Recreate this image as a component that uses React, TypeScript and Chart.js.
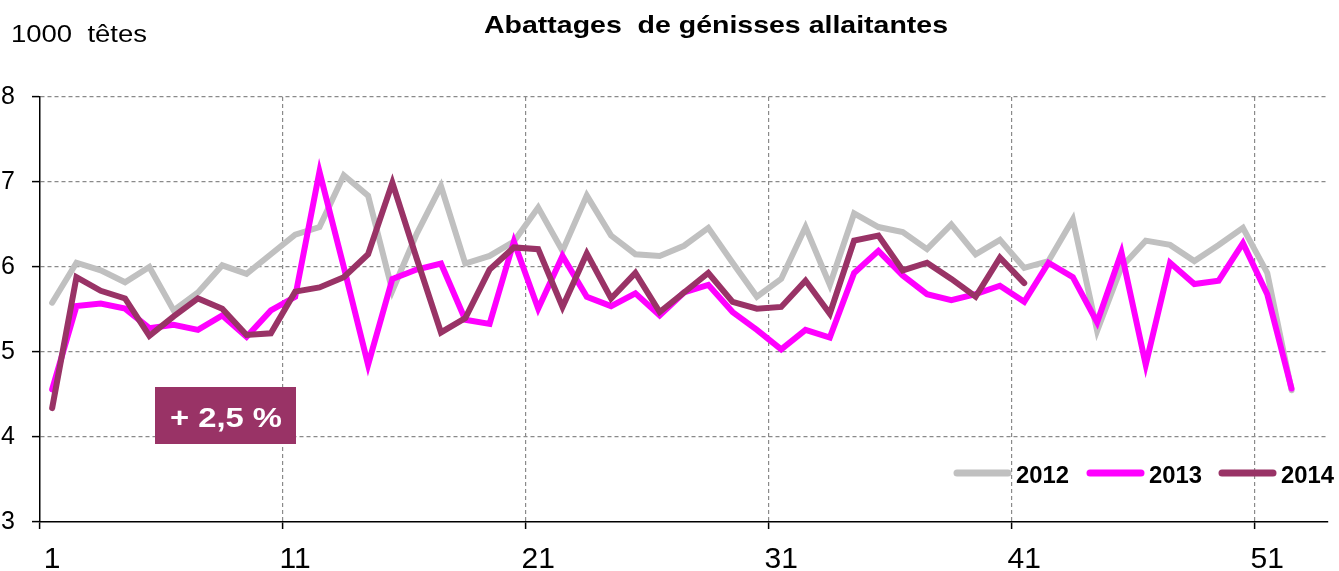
import React, { useEffect, useRef } from "react";
import { Chart, registerables } from "chart.js";

Chart.register(...registerables);

// ---------- Data ----------
const weeks = [
  "1", "2", "3", "4", "5", "6", "7", "8", "9", "10",
  "11", "12", "13", "14", "15", "16", "17", "18", "19", "20",
  "21", "22", "23", "24", "25", "26", "27", "28", "29", "30",
  "31", "32", "33", "34", "35", "36", "37", "38", "39", "40",
  "41", "42", "43", "44", "45", "46", "47", "48", "49", "50",
  "51", "52", "53",
];

const series2012 = [
  5.58, 6.05, 5.96, 5.82, 6.0, 5.49, 5.7, 6.02, 5.92, 6.15,
  6.38, 6.47, 7.08, 6.84, 5.72, 6.39, 6.95, 6.04, 6.13, 6.3,
  6.7, 6.19, 6.84, 6.37, 6.15, 6.13, 6.25, 6.46, 6.05, 5.65,
  5.86, 6.47, 5.79, 6.63, 6.47, 6.41, 6.21, 6.5, 6.15, 6.32,
  5.99, 6.07, 6.56, 5.25, 6.0, 6.31, 6.26, 6.07, 6.26, 6.46,
  5.93, 4.55,
];

const series2013 = [
  4.56, 5.54, 5.57, 5.51, 5.28, 5.32, 5.26, 5.43, 5.18, 5.49,
  5.65, 7.12, 6.0, 4.85, 5.86, 5.97, 6.04, 5.38, 5.33, 6.3,
  5.51, 6.13, 5.65, 5.54, 5.69, 5.43, 5.7, 5.79, 5.47, 5.26,
  5.03, 5.26, 5.17, 5.93, 6.19, 5.9, 5.68, 5.61, 5.68, 5.78,
  5.59, 6.05, 5.88, 5.35, 6.17, 4.85, 6.05, 5.8, 5.84, 6.28,
  5.68, 4.57,
];

const series2014 = [
  4.34, 5.88, 5.72, 5.63, 5.19, 5.42, 5.63, 5.51, 5.2, 5.22,
  5.71, 5.76, 5.88, 6.15, 6.99, 6.1, 5.23, 5.4, 5.97, 6.23,
  6.21, 5.53, 6.16, 5.63, 5.93, 5.47, 5.7, 5.93, 5.59, 5.51,
  5.53, 5.84, 5.45, 6.31, 6.37, 5.96, 6.05, 5.86, 5.65, 6.11,
  5.81,
];

const seriesNames = ["2012", "2013", "2014"];
const yMin = 3;
const yMax = 8;
const yStep = 1;
const labelEvery = 10;

const chartTitle = "Abattages  de génisses allaitantes";
const unitLabel = "1000  têtes";
const changeLabel = "+ 2,5 %";

// ---------- Styles ----------
const FONT = '"Liberation Sans", Arial, Helvetica, sans-serif';
const COLORS = ["#C0C0C0", "#FF00FF", "#993366"];
const GRID_COLOR = "#8A8A8A";

function drawFittedText(
  ctx: CanvasRenderingContext2D,
  text: string,
  x: number,
  y: number,
  font: string,
  width: number,
  align: CanvasTextAlign,
  color: string
) {
  ctx.save();
  ctx.font = font;
  ctx.fillStyle = color;
  ctx.textAlign = align;
  ctx.textBaseline = "alphabetic";
  const w = ctx.measureText(text).width;
  const sx = w > 0 ? width / w : 1;
  ctx.translate(x, y);
  ctx.scale(sx, 1);
  ctx.fillText(text, 0, 0);
  ctx.restore();
}

const overlayPlugin = {
  id: "overlayPlugin",
  afterDatasetsDraw(chart: any) {
    const ctx: CanvasRenderingContext2D = chart.ctx;

    // Title & unit
    drawFittedText(ctx, chartTitle, 716, 32.5, `bold 24px ${FONT}`, 464, "center", "#000");
    drawFittedText(ctx, unitLabel, 11, 41.5, `23px ${FONT}`, 136, "left", "#000");

    // Change box
    ctx.save();
    ctx.fillStyle = "#993366";
    ctx.fillRect(155, 387, 141, 57);
    ctx.restore();
    drawFittedText(ctx, changeLabel, 226, 426.5, `bold 28px ${FONT}`, 112, "center", "#FFFFFF");

    // Legend
    const lineStarts = [955, 1088, 1220];
    const ly = 473;
    chart.data.datasets.forEach((ds: any, i: number) => {
      const x0 = lineStarts[i];
      ctx.save();
      ctx.strokeStyle = ds.borderColor;
      ctx.lineWidth = 7;
      ctx.lineCap = "round";
      ctx.beginPath();
      ctx.moveTo(x0 + 2, ly);
      ctx.lineTo(x0 + 53, ly);
      ctx.stroke();
      ctx.restore();
      drawFittedText(ctx, ds.label, x0 + 61, 483, `bold 23px ${FONT}`, 53, "left", "#000");
    });
  },
};

export default function App() {
  const canvasRef = useRef<HTMLCanvasElement | null>(null);

  useEffect(() => {
    if (!canvasRef.current) return;
    Chart.defaults.font.family = FONT;

    const data = [series2012, series2013, series2014];

    const chart = new Chart(canvasRef.current, {
      type: "line",
      data: {
        labels: weeks,
        datasets: seriesNames.map((name, i) => ({
          label: name,
          data: data[i],
          borderColor: COLORS[i],
          backgroundColor: COLORS[i],
          borderWidth: 6,
          pointRadius: 0,
          pointHoverRadius: 0,
          tension: 0,
          fill: false,
          spanGaps: false,
          borderCapStyle: "round" as const,
          borderJoinStyle: "miter" as const,
          order: 3 - i,
        })),
      },
      options: {
        animation: false,
        responsive: true,
        maintainAspectRatio: false,
        layout: { padding: { top: 97, right: 11, left: 0, bottom: 0 } },
        plugins: {
          legend: { display: false },
          tooltip: { enabled: false },
          title: { display: false },
        },
        scales: {
          x: {
            type: "category",
            offset: true,
            grid: {
              offset: true,
              drawOnChartArea: true,
              drawTicks: true,
              lineWidth: 1.2,
              color: (c: any) =>
                typeof c.index === "number" && c.index > 0 && c.index % labelEvery === 0
                  ? GRID_COLOR
                  : "transparent",
              tickColor: (c: any) =>
                typeof c.index === "number" && c.index % labelEvery === 0 ? "#000" : "transparent",
              tickLength: 7,
              tickWidth: 1.5,
              tickBorderDash: [],
            },
            border: { display: true, color: "#000", width: 1.5, dash: [4, 3] },
            ticks: {
              autoSkip: false,
              maxRotation: 0,
              minRotation: 0,
              color: "#000",
              font: { family: FONT, size: 30 },
              padding: 13,
              callback: (_v: any, i: number) => (i % labelEvery === 0 ? weeks[i] : ""),
            },
            afterFit: (s: any) => {
              s.height = 49;
            },
          },
          y: {
            min: yMin,
            max: yMax,
            ticks: {
              stepSize: yStep,
              color: "#000",
              font: { family: FONT, size: 25 },
              padding: 17,
            },
            grid: {
              lineWidth: 1.2,
              color: (c: any) =>
                c.tick && c.tick.value !== yMin ? GRID_COLOR : "transparent",
              tickColor: "#000",
              tickLength: 8,
              tickWidth: 1.5,
              tickBorderDash: [],
            },
            border: { display: true, color: "#000", width: 1.5, dash: [4, 3] },
            afterFit: (s: any) => {
              s.width = 40;
            },
          },
        },
      },
      plugins: [overlayPlugin],
    });

    return () => {
      chart.destroy();
    };
  }, []);

  return (
    <div
      style={{
        position: "absolute",
        left: 0,
        top: 0,
        width: 1339,
        height: 571,
        background: "#fff",
      }}
    >
      <canvas ref={canvasRef} />
    </div>
  );
}
